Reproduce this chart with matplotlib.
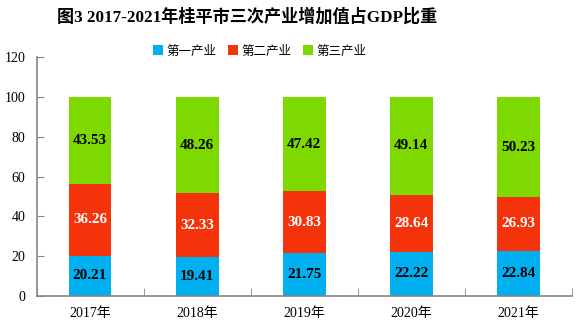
import numpy as np
import matplotlib.pyplot as plt

plt.rcParams['font.family'] = ['Liberation Serif', 'Noto Sans CJK SC', 'DejaVu Sans']

# 数据
years = ['2017年', '2018年', '2019年', '2020年', '2021年']
primary = [20.21, 19.41, 21.75, 22.22, 22.84]
secondary = [36.26, 32.33, 30.83, 28.64, 26.93]
tertiary = [43.53, 48.26, 47.42, 49.14, 50.23]

c1, c2, c3 = '#00B0F0', '#F4330A', '#7ED900'

fig = plt.figure(figsize=(5.82, 3.28), dpi=100)
ax = fig.add_axes([36.5 / 582, 1 - 296 / 328, (572 - 36.5) / 582, (296 - 57.3) / 328])

x = np.arange(len(years))
w = 0.4
b1 = ax.bar(x, primary, w, color=c1, label='第一产业')
bottom2 = np.array(primary)
b2 = ax.bar(x, secondary, w, bottom=bottom2, color=c2, label='第二产业')
bottom3 = bottom2 + np.array(secondary)
b3 = ax.bar(x, tertiary, w, bottom=bottom3, color=c3, label='第三产业')

# 数据标签
for bars, vals, bots, col in [(b1, primary, np.zeros(5), 'black'),
                              (b2, secondary, bottom2, 'white'),
                              (b3, tertiary, bottom3, 'black')]:
    for xi, v, b in zip(x, vals, bots):
        ax.text(xi, b + v / 2, f'{v:.2f}', ha='center', va='center',
                color=col, fontsize=11, fontweight='bold')

ax.set_xlim(-0.5, len(years) - 0.5)
ax.set_ylim(0, 120)
ax.set_yticks(range(0, 121, 20))
ax.set_xticks(x)
ax.set_xticklabels(years)
ax.set_xticks(np.arange(-0.5, len(years)), minor=True)

for s in ['top', 'right']:
    ax.spines[s].set_visible(False)
for s in ['left', 'bottom']:
    ax.spines[s].set_color('#868686')
    ax.spines[s].set_linewidth(1.2)

ax.tick_params(axis='y', direction='in', length=5, color='#868686', labelsize=10, pad=8)
ax.tick_params(axis='x', which='major', length=0, labelsize=10, pad=8)
ax.tick_params(axis='x', which='minor', direction='in', length=6, color='#868686')

fig.text(247 / 582, 1 - 17 / 328, '图3 2017-2021年桂平市三次产业增加值占GDP比重',
         ha='center', va='center', fontsize=12.3, fontweight='bold')
fig.legend(handles=[b1, b2, b3], loc='center', bbox_to_anchor=(260 / 582, 1 - 51 / 328),
           ncol=3, frameon=False, handlelength=0.8, handleheight=0.8,
           handletextpad=0.3, columnspacing=0.9, prop={'family': ['Noto Sans CJK SC'], 'size': 9})

fig.savefig('out.png', dpi=100)
